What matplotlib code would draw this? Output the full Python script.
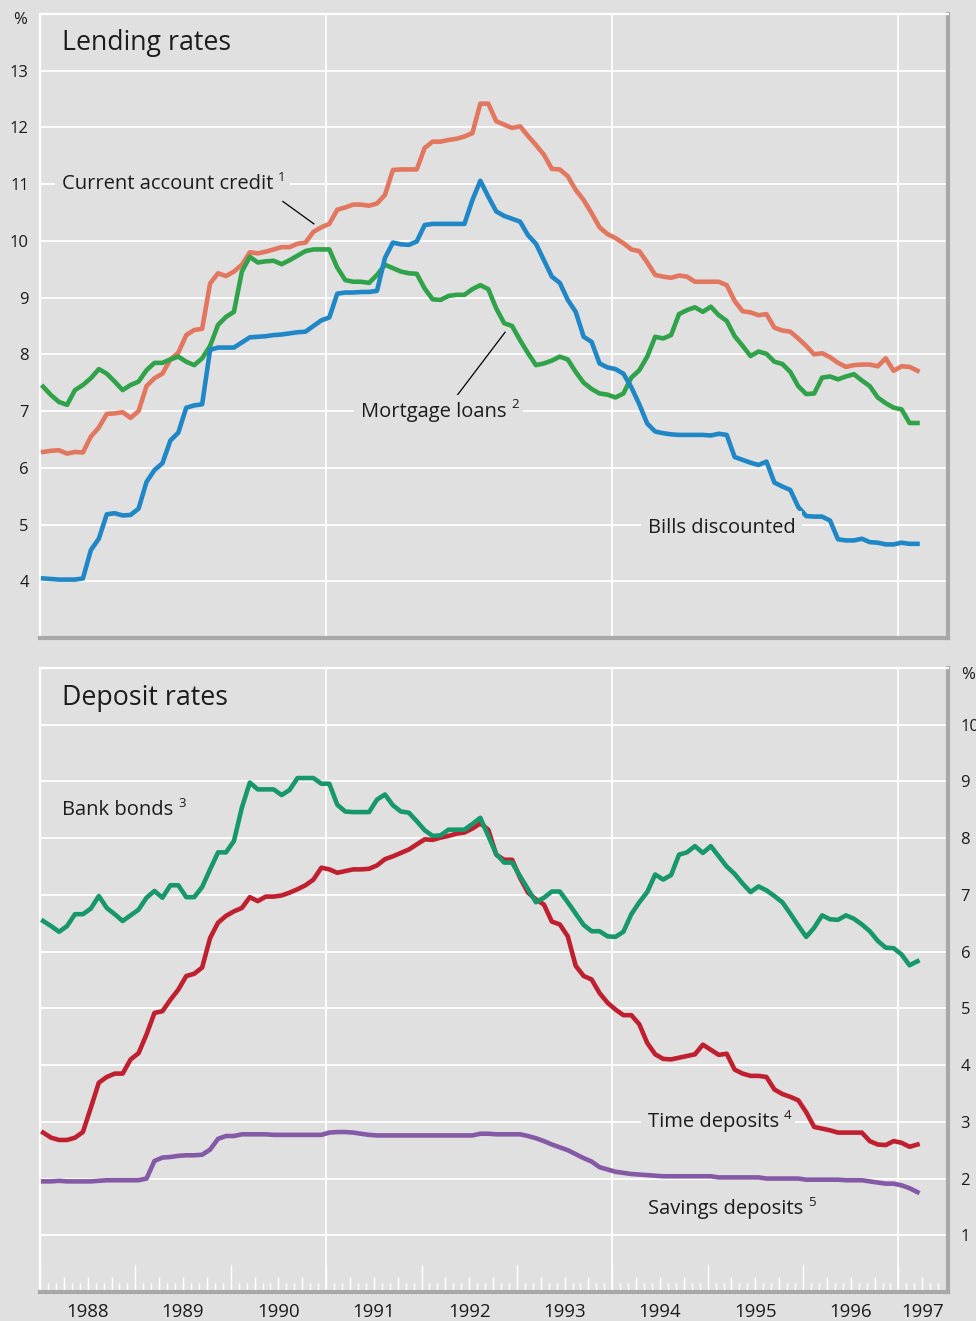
import numpy as np
import matplotlib
matplotlib.use('Agg')
import matplotlib.pyplot as plt
from matplotlib.ticker import FixedLocator

plt.rcParams['font.family'] = ['Open Sans', 'DejaVu Sans']

# ---------------- data (monthly, Jan 1988 - Mar 1997) ----------------
start_year = 1988

current_account_credit = [
    6.28, 6.30, 6.31, 6.25, 6.28, 6.27, 6.55, 6.71, 6.95, 6.96, 6.98, 6.88,
    7.00, 7.44, 7.58, 7.66, 7.91, 8.03, 8.34, 8.43, 8.45, 9.25, 9.43, 9.38,
    9.46, 9.58, 9.80, 9.78, 9.81, 9.85, 9.89, 9.89, 9.95, 9.97, 10.16, 10.24,
    10.30, 10.55, 10.59, 10.64, 10.64, 10.62, 10.66, 10.81, 11.25, 11.26, 11.26, 11.26,
    11.64, 11.75, 11.75, 11.78, 11.80, 11.84, 11.90, 12.42, 12.42, 12.11, 12.05, 11.99,
    12.02, 11.85, 11.69, 11.52, 11.27, 11.26, 11.14, 10.90, 10.72, 10.49, 10.24, 10.12,
    10.05, 9.96, 9.85, 9.82, 9.62, 9.40, 9.37, 9.35, 9.39, 9.37, 9.28, 9.28,
    9.28, 9.28, 9.22, 8.94, 8.76, 8.74, 8.69, 8.71, 8.47, 8.42, 8.40, 8.28,
    8.15, 8.00, 8.02, 7.95, 7.85, 7.78, 7.81, 7.82, 7.82, 7.79, 7.93, 7.71,
    7.79, 7.78, 7.71]

bills_discounted = [
    4.05, 4.04, 4.03, 4.03, 4.03, 4.05, 4.55, 4.75, 5.18, 5.20, 5.16, 5.17,
    5.28, 5.75, 5.96, 6.08, 6.48, 6.62, 7.06, 7.10, 7.12, 8.08, 8.12, 8.12,
    8.12, 8.21, 8.30, 8.31, 8.32, 8.34, 8.35, 8.37, 8.39, 8.40, 8.50, 8.60,
    8.65, 9.07, 9.09, 9.09, 9.10, 9.10, 9.12, 9.70, 9.97, 9.94, 9.93, 9.99,
    10.28, 10.30, 10.30, 10.30, 10.30, 10.30, 10.72, 11.06, 10.78, 10.52, 10.44, 10.39,
    10.34, 10.10, 9.95, 9.66, 9.37, 9.26, 8.96, 8.75, 8.31, 8.22, 7.84, 7.77,
    7.74, 7.66, 7.42, 7.12, 6.78, 6.64, 6.61, 6.59, 6.58, 6.58, 6.58, 6.58,
    6.57, 6.60, 6.58, 6.19, 6.14, 6.09, 6.05, 6.11, 5.74, 5.67, 5.61, 5.31,
    5.15, 5.14, 5.14, 5.07, 4.74, 4.72, 4.72, 4.75, 4.69, 4.68, 4.65, 4.65,
    4.68, 4.66, 4.66]

mortgage_loans = [
    7.43, 7.28, 7.16, 7.11, 7.37, 7.46, 7.58, 7.74, 7.66, 7.52, 7.37, 7.46,
    7.52, 7.72, 7.85, 7.85, 7.91, 7.96, 7.87, 7.81, 7.93, 8.15, 8.52, 8.66,
    8.75, 9.46, 9.72, 9.62, 9.64, 9.65, 9.59, 9.66, 9.74, 9.82, 9.85, 9.85,
    9.85, 9.53, 9.31, 9.28, 9.28, 9.26, 9.40, 9.58, 9.52, 9.46, 9.43, 9.42,
    9.16, 8.97, 8.96, 9.03, 9.05, 9.05, 9.15, 9.22, 9.15, 8.81, 8.55, 8.50,
    8.25, 8.02, 7.81, 7.84, 7.89, 7.96, 7.91, 7.69, 7.50, 7.39, 7.31, 7.29,
    7.24, 7.31, 7.59, 7.72, 7.96, 8.31, 8.28, 8.34, 8.71, 8.78, 8.83, 8.75,
    8.84, 8.69, 8.59, 8.32, 8.15, 7.97, 8.05, 8.01, 7.87, 7.83, 7.69, 7.44,
    7.30, 7.31, 7.59, 7.61, 7.56, 7.61, 7.65, 7.54, 7.44, 7.24, 7.14, 7.06,
    7.03, 6.79, 6.79]

bank_bonds = [
    6.54, 6.45, 6.35, 6.45, 6.66, 6.66, 6.76, 6.98, 6.77, 6.66, 6.54, 6.64,
    6.74, 6.95, 7.07, 6.95, 7.17, 7.17, 6.96, 6.96, 7.14, 7.45, 7.75, 7.75,
    7.95, 8.54, 8.98, 8.86, 8.86, 8.86, 8.76, 8.85, 9.06, 9.06, 9.06, 8.96,
    8.96, 8.59, 8.47, 8.46, 8.46, 8.46, 8.68, 8.77, 8.58, 8.47, 8.45, 8.30,
    8.14, 8.04, 8.05, 8.15, 8.15, 8.15, 8.25, 8.36, 8.04, 7.72, 7.57, 7.57,
    7.33, 7.10, 6.87, 6.95, 7.06, 7.06, 6.87, 6.67, 6.47, 6.36, 6.36, 6.27,
    6.26, 6.35, 6.66, 6.87, 7.05, 7.36, 7.27, 7.35, 7.71, 7.75, 7.86, 7.74,
    7.86, 7.68, 7.50, 7.37, 7.20, 7.05, 7.15, 7.08, 6.98, 6.87, 6.67, 6.46,
    6.26, 6.42, 6.64, 6.57, 6.56, 6.64, 6.58, 6.48, 6.36, 6.19, 6.07, 6.06,
    5.95, 5.76, 5.83]

time_deposits = [
    2.81, 2.72, 2.68, 2.68, 2.72, 2.82, 3.25, 3.69, 3.79, 3.85, 3.85, 4.10,
    4.21, 4.54, 4.92, 4.95, 5.15, 5.33, 5.57, 5.61, 5.72, 6.24, 6.51, 6.63,
    6.71, 6.77, 6.96, 6.89, 6.97, 6.97, 6.99, 7.04, 7.10, 7.17, 7.27, 7.48,
    7.45, 7.39, 7.42, 7.45, 7.45, 7.46, 7.52, 7.63, 7.68, 7.74, 7.80, 7.89,
    7.98, 7.97, 8.01, 8.04, 8.08, 8.10, 8.17, 8.26, 8.15, 7.71, 7.62, 7.62,
    7.30, 7.04, 6.92, 6.83, 6.53, 6.48, 6.27, 5.75, 5.57, 5.51, 5.27, 5.10,
    4.98, 4.88, 4.88, 4.72, 4.39, 4.19, 4.11, 4.10, 4.13, 4.16, 4.19, 4.36,
    4.27, 4.18, 4.20, 3.92, 3.85, 3.81, 3.81, 3.79, 3.57, 3.49, 3.44, 3.38,
    3.17, 2.91, 2.88, 2.85, 2.81, 2.81, 2.81, 2.81, 2.66, 2.60, 2.59, 2.66,
    2.63, 2.56, 2.60]

savings_deposits = [
    1.95, 1.95, 1.96, 1.95, 1.95, 1.95, 1.95, 1.96, 1.97, 1.97, 1.97, 1.97,
    1.97, 2.00, 2.31, 2.37, 2.38, 2.40, 2.41, 2.41, 2.42, 2.51, 2.70, 2.75,
    2.75, 2.78, 2.78, 2.78, 2.78, 2.77, 2.77, 2.77, 2.77, 2.77, 2.77, 2.77,
    2.81, 2.82, 2.82, 2.81, 2.79, 2.77, 2.76, 2.76, 2.76, 2.76, 2.76, 2.76,
    2.76, 2.76, 2.76, 2.76, 2.76, 2.76, 2.76, 2.79, 2.79, 2.78, 2.78, 2.78,
    2.78, 2.75, 2.71, 2.66, 2.60, 2.55, 2.50, 2.43, 2.36, 2.30, 2.20, 2.16,
    2.12, 2.10, 2.08, 2.07, 2.06, 2.05, 2.04, 2.04, 2.04, 2.04, 2.04, 2.04,
    2.04, 2.02, 2.02, 2.02, 2.02, 2.02, 2.02, 2.00, 2.00, 2.00, 2.00, 2.00,
    1.98, 1.98, 1.98, 1.98, 1.98, 1.97, 1.97, 1.97, 1.95, 1.93, 1.91, 1.91,
    1.88, 1.83, 1.76]

year_labels = [1988, 1989, 1990, 1991, 1992, 1993, 1994, 1995, 1996, 1997]
lending_yticks = [4, 5, 6, 7, 8, 9, 10, 11, 12, 13]
deposit_yticks = [1, 2, 3, 4, 5, 6, 7, 8, 9, 10]
highlight_years = [1991, 1994, 1997]

# ---------------- styling ----------------
BG = '#e0e0e0'
TXT = '#1c1c1c'
SHADOW = '#a8a8a8'
C_CAC = '#e2765e'
C_BILL = '#1f87c6'
C_MORT = '#30a24a'
C_BOND = '#17986b'
C_TIME = '#bf1f2e'
C_SAV = '#8459a6'
LW = 3.3

n = len(current_account_credit)
months = start_year + (np.arange(n) + 0.4) / 12.0

fig = plt.figure(figsize=(9.76, 13.21), dpi=100, facecolor=BG)
W, H = 976.0, 1321.0
ax1 = fig.add_axes([40 / W, 1 - 638 / H, 908 / W, 624 / H])
ax2 = fig.add_axes([40 / W, 1 - 1292 / H, 908 / W, 624 / H])

XMIN, XMAX = 1988.0, 1997.52


def base_style(ax, ylo, yhi, grid_vals):
    ax.set_facecolor(BG)
    ax.set_xlim(XMIN, XMAX)
    ax.set_ylim(ylo, yhi)
    for v in grid_vals:
        ax.axhline(v, color='white', lw=1.3, zorder=1)
    for yr in highlight_years:
        ax.axvline(yr, color='white', lw=1.3, zorder=1)
    for s in ('left', 'top'):
        ax.spines[s].set_color('white')
        ax.spines[s].set_linewidth(1.6)
    for s in ('right', 'bottom'):
        ax.spines[s].set_color(SHADOW)
        ax.spines[s].set_linewidth(3.0)


def label(ax, x, y, s, sup=None, fs=14.5):
    t = ax.text(x, y, s, fontsize=fs, va='center', ha='left', color=TXT,
                bbox=dict(facecolor=BG, edgecolor='none', pad=5), zorder=6)
    if sup:
        ax.annotate(sup, xy=(1, 0.92), xycoords=t, xytext=(3.5, 3.5),
                    textcoords='offset points', fontsize=fs * 0.66,
                    va='top', ha='left', color=TXT,
                    bbox=dict(facecolor=BG, edgecolor='none', pad=3), zorder=6)
    return t


# ---------------- top panel: lending rates ----------------
base_style(ax1, 3, 14, lending_yticks)
ax1.plot(months, current_account_credit, color=C_CAC, lw=LW, zorder=3)
ax1.plot(months, mortgage_loans, color=C_MORT, lw=LW, zorder=3)
ax1.plot(months, bills_discounted, color=C_BILL, lw=LW, zorder=4)
ax1.set_xticks([])
ax1.set_yticks(lending_yticks)
ax1.tick_params(axis='y', length=0, pad=8, labelsize=12, labelcolor=TXT)
ax1.text(-0.022, 0.990, '%', transform=ax1.transAxes, ha='center', va='center',
         fontsize=12, color=TXT)
ax1.text(0.0242, 0.9535, 'Lending rates', transform=ax1.transAxes,
         ha='left', va='center', fontsize=19.3, color=TXT)

label(ax1, 1988.23, 11.0, 'Current account credit', '1')
label(ax1, 1991.365, 6.99, 'Mortgage loans', '2')
label(ax1, 1994.373, 4.94, 'Bills discounted')
leader_cac = ([1990.547, 1990.872], [10.695, 10.30])
leader_mort = ([1992.332, 1992.876], [7.185, 8.39])
ax1.plot(*leader_cac, color='black', lw=0.9, zorder=5)
ax1.plot(*leader_mort, color='black', lw=0.9, zorder=5)

# ---------------- bottom panel: deposit rates ----------------
base_style(ax2, 0, 11, deposit_yticks)
ax2.plot(months, savings_deposits, color=C_SAV, lw=LW, zorder=3)
ax2.plot(months, time_deposits, color=C_TIME, lw=LW, zorder=3)
ax2.plot(months, bank_bonds, color=C_BOND, lw=LW, zorder=4)
ax2.yaxis.tick_right()
ax2.set_yticks(deposit_yticks)
ax2.tick_params(axis='y', length=0, pad=9, labelsize=12, labelcolor=TXT)
ax2.text(1.022, 0.989, '%', transform=ax2.transAxes, ha='center', va='center',
         fontsize=12, color=TXT)
ax2.text(0.0242, 0.952, 'Deposit rates', transform=ax2.transAxes,
         ha='left', va='center', fontsize=19.3, color=TXT)

label(ax2, 1988.23, 8.5, 'Bank bonds', '3')
label(ax2, 1994.373, 2.99, 'Time deposits', '4')
label(ax2, 1994.373, 1.46, 'Savings deposits', '5')

# x ticks: years (long), quarters (medium), months (short)
year_ticks = list(range(year_labels[0], year_labels[-1] + 1))
month_ticks = [y + m / 12.0 for y in year_ticks for m in range(1, 12)
               if y + m / 12.0 < XMAX - 0.05]
quarter_ticks = [y + m / 12.0 for y in year_ticks for m in (3, 6, 9)
                 if y + m / 12.0 < XMAX - 0.05]
ax2.xaxis.set_major_locator(FixedLocator(year_ticks))
ax2.xaxis.set_minor_locator(FixedLocator(month_ticks))
ax2.tick_params(axis='x', which='major', direction='in', length=19.5, width=1.0,
                color='white', labelbottom=False)
ax2.tick_params(axis='x', which='minor', direction='in', length=6.5, width=1.0,
                color='white')

secq = ax2.secondary_xaxis('bottom')
secq.set_xticks(quarter_ticks)
secq.tick_params(axis='x', direction='in', length=11, width=1.0, color='white',
                 labelbottom=False)
secq.spines['bottom'].set_visible(False)

label_pos = [y + 0.5 for y in year_labels[:-1]] + [year_labels[-1] + 0.25]
secl = ax2.secondary_xaxis('bottom')
secl.set_xticks(label_pos, labels=[str(y) for y in year_labels])
secl.tick_params(axis='x', length=0, pad=8, labelsize=13.4, labelcolor=TXT)
secl.spines['bottom'].set_visible(False)

fig.savefig('out.png', dpi=100, facecolor=BG)
